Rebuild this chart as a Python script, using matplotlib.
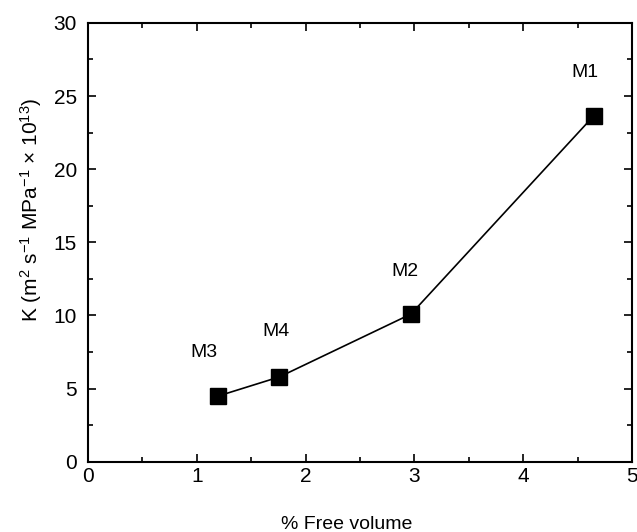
import matplotlib
matplotlib.use("Agg")
import matplotlib.pyplot as plt
from matplotlib.ticker import MultipleLocator

# free volume (%) vs permeability coefficient
free_volume = [1.20, 1.76, 2.97, 4.65]
k_values = [4.5, 5.8, 10.1, 23.65]
names = ["M3", "M4", "M2", "M1"]
label_x = [1.07, 1.73, 2.91, 4.57]
label_y = [7.5, 8.9, 13.0, 26.6]

plt.rcParams['font.family'] = ['Liberation Sans', 'DejaVu Sans']
plt.rcParams['mathtext.default'] = 'regular'

fig = plt.figure(figsize=(6.37, 5.32), dpi=100)
ax = fig.add_axes([0.138, 0.132, 0.854, 0.825])

ax.plot(free_volume, k_values, color="black", lw=1.2,
        marker="s", markersize=12, markerfacecolor="black")
for n, lx, ly in zip(names, label_x, label_y):
    ax.text(lx, ly, n, fontsize=14, ha="center", va="center")

ax.set_xlim(0, 5)
ax.set_ylim(0, 30)
ax.xaxis.set_major_locator(MultipleLocator(1))
ax.xaxis.set_minor_locator(MultipleLocator(0.5))
ax.yaxis.set_major_locator(MultipleLocator(5))
ax.yaxis.set_minor_locator(MultipleLocator(2.5))
ax.tick_params(which="both", direction="in", top=True, right=True,
               labelsize=15, width=1.2)
ax.tick_params(axis="y", pad=8)
ax.tick_params(which="major", length=6)
ax.tick_params(which="minor", length=3.5)
for s in ax.spines.values():
    s.set_linewidth(1.5)

ax.set_xlabel("% Free volume", fontsize=14)
ax.xaxis.set_label_coords(0.475, -0.123)
ax.set_ylabel("K (m$^{2}$ s$^{-1}$ MPa$^{-1}$ \u00d7 10$^{13}$)", fontsize=15)
ax.yaxis.set_label_coords(-0.08, 0.575)

fig.savefig("out.png", dpi=100)
